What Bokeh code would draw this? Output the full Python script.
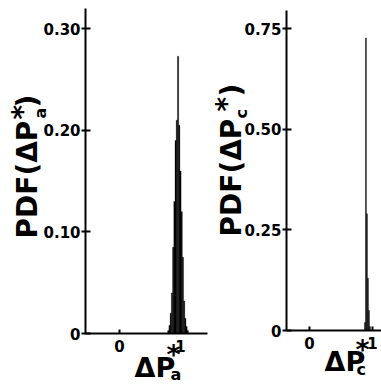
from math import pi
from bokeh.plotting import figure
from bokeh.layouts import row
from bokeh.models import Label, FixedTicker, Range1d
from bokeh.embed import file_html
from bokeh.resources import INLINE

# ---------------- data ----------------
# PDF of ΔPa* (left panel) – histogram bins
a_centers = [0.80, 0.82, 0.84, 0.86, 0.88, 0.90, 0.92, 0.94, 0.96,
             0.98, 1.00, 1.02, 1.04, 1.06, 1.08, 1.10, 1.12]
a_heights = [0.003, 0.008, 0.02, 0.04, 0.085, 0.13, 0.19, 0.21, 0.273,
             0.205, 0.16, 0.12, 0.075, 0.032, 0.015, 0.007, 0.003]
a_bin = 0.02

# PDF of ΔPc* (right panel) – histogram bins
c_centers = [0.88, 0.896, 0.912, 0.928, 0.944, 0.96]
c_heights = [0.02, 0.727, 0.29, 0.13, 0.05, 0.01]
c_bin = 0.016

a_yticks = [0, 0.1, 0.2, 0.3]
a_ylabels = ["0", "0.10", "0.20", "0.30"]
c_yticks = [0, 0.25, 0.5, 0.75]
c_ylabels = ["0", "0.25", "0.50", "0.75"]
xticks = [0, 1]
xlabels = ["0", "1"]

FONT = "DejaVu Sans"
H = 384
BASE_K = 0.33   # anchor-to-baseline correction (fraction of font size)


class Panel:
    """Figure whose frame fills the whole canvas; axes sit at fixed data positions."""

    def __init__(self, width, x0c, ppx, y0c, ppy, xbounds, ybounds, yticks, ylabels):
        self.x0c, self.ppx, self.y0c, self.ppy = x0c, ppx, y0c, ppy
        xr = Range1d(-x0c / ppx, (width - x0c) / ppx)
        yr = Range1d(-(H - y0c) / ppy, y0c / ppy)
        p = figure(width=width, height=H, output_backend="svg",
                   toolbar_location=None, x_range=xr, y_range=yr,
                   min_border=0, min_border_left=0, min_border_right=0,
                   min_border_top=0, min_border_bottom=0)
        p.outline_line_color = None
        p.grid.visible = False
        p.background_fill_color = "white"
        p.border_fill_color = "white"
        for ax in (p.xaxis[0], p.yaxis[0]):
            ax.axis_line_color = "black"
            ax.axis_line_width = 2
            ax.major_tick_line_color = "black"
            ax.major_tick_line_width = 2
            ax.minor_tick_line_color = None
            ax.major_label_text_font = FONT
            ax.major_label_text_font_style = "bold"
            ax.major_label_text_font_size = "15px"
            ax.major_label_text_color = "black"
        p.yaxis.ticker = FixedTicker(ticks=yticks)
        p.yaxis.major_label_overrides = {t: l for t, l in zip(yticks, ylabels)}
        p.yaxis.major_tick_in = 5
        p.yaxis.major_tick_out = 4
        p.yaxis.major_label_standoff = 1
        p.yaxis.bounds = ybounds
        p.yaxis.fixed_location = xbounds[0]
        p.xaxis.ticker = FixedTicker(ticks=xticks)
        p.xaxis.major_label_overrides = {t: l for t, l in zip(xticks, xlabels)}
        p.xaxis.major_tick_in = 4
        p.xaxis.major_tick_out = 0
        p.xaxis.major_label_standoff = 6
        p.xaxis.bounds = xbounds
        p.xaxis.fixed_location = 0
        self.p = p

    def text(self, cx, cy, text, size, vertical=False):
        # cx, cy: canvas pixel position of the left end of the text baseline
        if vertical:
            cx -= BASE_K * size
        else:
            cy -= BASE_K * size
        self.p.add_layout(Label(
            x=(cx - self.x0c) / self.ppx, y=(self.y0c - cy) / self.ppy,
            text=text, angle=pi / 2 if vertical else 0.0,
            text_font=FONT, text_font_style="bold",
            text_font_size=f"{size}px", text_align="left",
            text_baseline="alphabetic", text_color="black"))


# ---------------- left panel ----------------
A = Panel(210, 119, 61.0, 333, 1015.6, (-0.557, 1.443), (0, 0.32),
          a_yticks, a_ylabels)
A.p.vbar(x=a_centers, top=a_heights, width=a_bin, bottom=0,
         fill_color="black", line_color="black", line_width=0.3)

A.text(36, 238, "PDF(ΔP", 28, True)
A.text(45, 118, "a", 16, True)
A.text(31, 119, "*", 28, True)
A.text(36, 107, ")", 28, True)

A.text(134, 376, "ΔP", 27)
A.text(170, 379, "a", 16)
A.text(166, 363, "*", 27)

# ---------------- right panel (canvas starts at page x = 210) ----------------
RX = 210
C = Panel(171, 309 - RX, 63.0, 330, 402.5, (-0.365, 1.143), (0, 0.795),
          c_yticks, c_ylabels)
C.p.vbar(x=c_centers, top=c_heights, width=c_bin, bottom=0,
         fill_color="black", line_color="black", line_width=0.3)

C.text(240 - RX, 236, "PDF(ΔP", 28, True)
C.text(246 - RX, 118, "c", 16, True)
C.text(235 - RX, 111, "*", 28, True)
C.text(240 - RX, 96, ")", 28, True)

C.text(324 - RX, 370, "ΔP", 27)
C.text(356 - RX, 374, "c", 16)
C.text(355 - RX, 358, "*", 27)

layout = row(A.p, C.p)
open("out.html", "w").write(file_html(layout, INLINE))
